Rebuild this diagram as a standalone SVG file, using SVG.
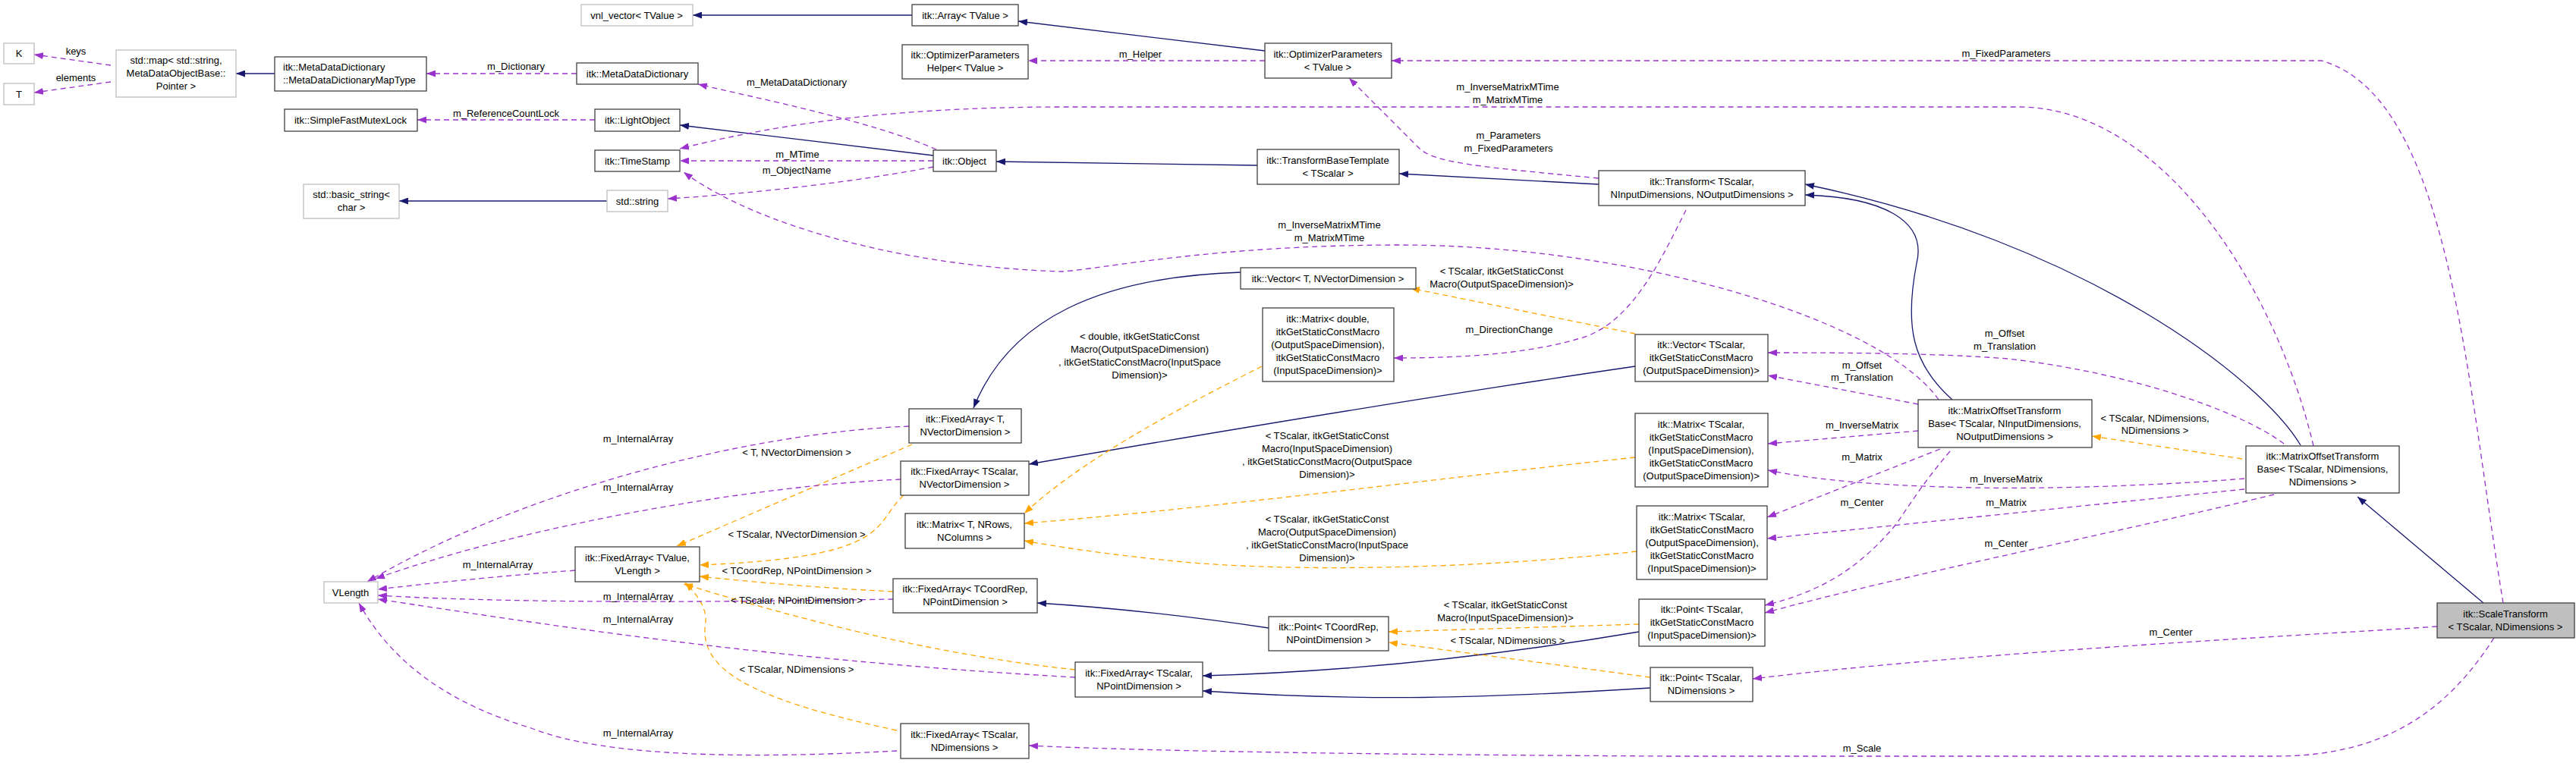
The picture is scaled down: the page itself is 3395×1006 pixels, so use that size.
<svg xmlns="http://www.w3.org/2000/svg" width="3395" height="1006" viewBox="0 0 3395 1006">
<style>
text{font-family:"Liberation Sans",Arial,sans-serif;font-size:13px;fill:#000}
.n rect{fill:#fff;stroke:#404040;stroke-width:1.3}
.g rect{stroke:#bfbfbf}
.s rect{fill:#bfbfbf}
.n text{text-anchor:middle}
.l text{text-anchor:start}
#edges path{fill:none;stroke-width:1.3}
.inh{stroke:#191970;marker-end:url(#ai)}
.use{stroke:#9a32cd;stroke-dasharray:7,5;marker-end:url(#au)}
.tpl{stroke:#ffa500;stroke-dasharray:7,5;marker-end:url(#at)}
#labels text{text-anchor:middle}
</style>
<defs>
<marker id="ai" markerUnits="userSpaceOnUse" markerWidth="12" markerHeight="9" refX="12" refY="4.5" orient="auto"><path d="M0,0L12,4.5L0,9z" fill="#191970"/></marker>
<marker id="au" markerUnits="userSpaceOnUse" markerWidth="12" markerHeight="9" refX="12" refY="4.5" orient="auto"><path d="M0,0L12,4.5L0,9z" fill="#9a32cd"/></marker>
<marker id="at" markerUnits="userSpaceOnUse" markerWidth="12" markerHeight="9" refX="12" refY="4.5" orient="auto"><path d="M0,0L12,4.5L0,9z" fill="#ffa500"/></marker>
</defs>
<rect width="3395" height="1006" fill="#fff"/>
<g id="edges">
<path class="use" d="M146,86L45,72"/>
<path class="use" d="M146,108L45,122"/>
<path class="inh" d="M362,97L311,97"/>
<path class="use" d="M760,97L562,97"/>
<path class="use" d="M784,158L550,158"/>
<path class="inh" d="M800,265L526,265"/>
<path class="inh" d="M1202,20L913,20"/>
<path class="use" d="M1234,197C1150,160 1000,130 920,111"/>
<path class="inh" d="M1230,205L896,165"/>
<path class="use" d="M1230,212L896,212"/>
<path class="use" d="M1230,220C1100,245 950,258 880,262"/>
<path class="inh" d="M1657,218L1313,213"/>
<path class="inh" d="M1667,67L1342,28"/>
<path class="use" d="M1667,80L1355,80"/>
<path class="inh" d="M2107,243L1844,229"/>
<path class="use" d="M2107,235C1950,220 1890,215 1870,195L1778,103"/>
<path class="use" d="M3299,795C3250,500 3230,130 3060,80L1834,80"/>
<path class="use" d="M3049,588C3000,380 2850,141 2660,141L1400,141C1150,141 1000,170 896,196"/>
<path class="use" d="M2555,527C2480,420 2150,323 1844,323C1600,323 1450,355 1400,358C1200,352 1000,300 901,227"/>
<path class="inh" d="M1635,359C1450,365 1330,420 1283,538"/>
<path class="inh" d="M2155,483C1900,520 1600,570 1356,612"/>
<path class="tpl" d="M2155,440L1859,380"/>
<path class="tpl" d="M1663,483C1550,540 1420,610 1350,677"/>
<path class="use" d="M2222,277C2190,340 2150,430 2079,447C2000,470 1900,472 1837,472"/>
<path class="tpl" d="M2155,603C1900,630 1600,670 1350,690"/>
<path class="tpl" d="M2157,727C1950,750 1700,755 1550,740C1450,730 1390,720 1350,713"/>
<path class="tpl" d="M2160,823L1830,833"/>
<path class="inh" d="M2160,833C2000,860 1800,885 1585,891"/>
<path class="tpl" d="M2175,893L1830,847"/>
<path class="inh" d="M2175,907C1950,921 1800,925 1585,911"/>
<path class="inh" d="M1672,828C1550,810 1450,800 1367,795"/>
<path class="tpl" d="M1202,586L892,720"/>
<path class="tpl" d="M1191,653C1150,690 1180,735 922,745"/>
<path class="tpl" d="M1177,780C1080,775 1000,768 922,760"/>
<path class="tpl" d="M1417,883C1200,860 1000,800 901,770"/>
<path class="tpl" d="M1182,963C980,920 920,880 930,820C932,800 915,780 903,768"/>
<path class="use" d="M1198,562C1000,570 700,640 484,767"/>
<path class="use" d="M1187,632C1000,640 700,690 495,763"/>
<path class="use" d="M758,752C650,760 560,770 498,777"/>
<path class="use" d="M1177,790C1000,793 700,797 498,785"/>
<path class="use" d="M1417,893C1000,870 700,820 498,790"/>
<path class="use" d="M1182,990C1000,1000 800,1000 700,960C600,930 520,880 473,795"/>
<path class="use" d="M3287,841C3230,930 3150,997 3000,997L2200,997C1800,995 1500,990 1356,983"/>
<path class="use" d="M3212,826C3000,840 2600,860 2310,895"/>
<path class="inh" d="M3273,795L3107,655"/>
<path class="tpl" d="M2955,605L2757,575"/>
<path class="inh" d="M3032,587C2980,500 2750,320 2379,243"/>
<path class="inh" d="M2573,527C2520,480 2510,430 2526,347C2540,290 2480,260 2379,257"/>
<path class="use" d="M3010,585C2950,540 2800,490 2646,473C2550,465 2400,465 2330,465"/>
<path class="use" d="M2958,631C2850,640 2700,645 2602,643C2450,640 2380,630 2330,620"/>
<path class="use" d="M2958,645L2329,710"/>
<path class="use" d="M2997,652C2800,700 2500,760 2326,808"/>
<path class="use" d="M2528,533L2330,495"/>
<path class="use" d="M2528,568L2330,585"/>
<path class="use" d="M2557,592L2329,682"/>
<path class="use" d="M2570,595C2540,630 2520,660 2500,690C2450,750 2400,780 2326,798"/>
</g>
<g id="labels">
<text x="100" y="72">keys</text>
<text x="100" y="107">elements</text>
<text x="680" y="92">m_Dictionary</text>
<text x="667" y="154">m_ReferenceCountLock</text>
<text x="1050" y="113">m_MetaDataDictionary</text>
<text x="1051" y="208">m_MTime</text>
<text x="1050" y="229">m_ObjectName</text>
<text x="1503" y="76">m_Helper</text>
<text x="1988" y="183">m_Parameters</text>
<text x="1988" y="200">m_FixedParameters</text>
<text x="2644" y="75">m_FixedParameters</text>
<text x="1987" y="119">m_InverseMatrixMTime</text>
<text x="1987" y="136">m_MatrixMTime</text>
<text x="1752" y="301">m_InverseMatrixMTime</text>
<text x="1752" y="318">m_MatrixMTime</text>
<text x="1979" y="362">&lt; TScalar, itkGetStaticConst</text>
<text x="1979" y="379">Macro(OutputSpaceDimension)&gt;</text>
<text x="1502" y="448">&lt; double, itkGetStaticConst</text>
<text x="1502" y="465">Macro(OutputSpaceDimension)</text>
<text x="1502" y="482">, itkGetStaticConstMacro(InputSpace</text>
<text x="1502" y="499">Dimension)&gt;</text>
<text x="1989" y="439">m_DirectionChange</text>
<text x="1749" y="579">&lt; TScalar, itkGetStaticConst</text>
<text x="1749" y="596">Macro(InputSpaceDimension)</text>
<text x="1749" y="613">, itkGetStaticConstMacro(OutputSpace</text>
<text x="1749" y="630">Dimension)&gt;</text>
<text x="1749" y="689">&lt; TScalar, itkGetStaticConst</text>
<text x="1749" y="706">Macro(OutputSpaceDimension)</text>
<text x="1749" y="723">, itkGetStaticConstMacro(InputSpace</text>
<text x="1749" y="740">Dimension)&gt;</text>
<text x="1984" y="802">&lt; TScalar, itkGetStaticConst</text>
<text x="1984" y="819">Macro(InputSpaceDimension)&gt;</text>
<text x="1987" y="849">&lt; TScalar, NDimensions &gt;</text>
<text x="1050" y="601">&lt; T, NVectorDimension &gt;</text>
<text x="1050" y="709">&lt; TScalar, NVectorDimension &gt;</text>
<text x="1050" y="757">&lt; TCoordRep, NPointDimension &gt;</text>
<text x="1050" y="796">&lt; TScalar, NPointDimension &gt;</text>
<text x="1050" y="887">&lt; TScalar, NDimensions &gt;</text>
<text x="841" y="583">m_InternalArray</text>
<text x="841" y="647">m_InternalArray</text>
<text x="656" y="749">m_InternalArray</text>
<text x="841" y="791">m_InternalArray</text>
<text x="841" y="821">m_InternalArray</text>
<text x="841" y="971">m_InternalArray</text>
<text x="2454" y="991">m_Scale</text>
<text x="2861" y="838">m_Center</text>
<text x="2840" y="556">&lt; TScalar, NDimensions,</text>
<text x="2840" y="572">NDimensions &gt;</text>
<text x="2642" y="444">m_Offset</text>
<text x="2642" y="461">m_Translation</text>
<text x="2454" y="486">m_Offset</text>
<text x="2454" y="502">m_Translation</text>
<text x="2644" y="636">m_InverseMatrix</text>
<text x="2644" y="667">m_Matrix</text>
<text x="2644" y="721">m_Center</text>
<text x="2454" y="565">m_InverseMatrix</text>
<text x="2454" y="607">m_Matrix</text>
<text x="2454" y="667">m_Center</text>
</g>
<g id="K" class="n g"><rect x="5" y="57" width="40" height="27"/><text x="25" y="75">K</text></g>
<g id="T" class="n g"><rect x="5" y="110" width="40" height="28"/><text x="25" y="129">T</text></g>
<g id="stdmap" class="n g"><rect x="153" y="66" width="158" height="62"/><text x="232" y="84">std::map&lt; std::string,</text><text x="232" y="101">MetaDataObjectBase::</text><text x="232" y="118">Pointer &gt;</text></g>
<g id="maptype" class="n l"><rect x="362" y="75" width="200" height="45"/><text x="373" y="93">itk::MetaDataDictionary</text><text x="373" y="110">::MetaDataDictionaryMapType</text></g>
<g id="mutex" class="n"><rect x="375" y="144" width="175" height="29"/><text x="462" y="163">itk::SimpleFastMutexLock</text></g>
<g id="basicstring" class="n g"><rect x="400" y="243" width="126" height="45"/><text x="463" y="261">std::basic_string&lt;</text><text x="463" y="278">char &gt;</text></g>
<g id="vnl" class="n g"><rect x="766" y="6" width="147" height="28"/><text x="839" y="25">vnl_vector&lt; TValue &gt;</text></g>
<g id="array" class="n"><rect x="1202" y="6" width="140" height="28"/><text x="1272" y="25">itk::Array&lt; TValue &gt;</text></g>
<g id="ophelper" class="n"><rect x="1189" y="59" width="166" height="45"/><text x="1272" y="77">itk::OptimizerParameters</text><text x="1272" y="94">Helper&lt; TValue &gt;</text></g>
<g id="mdd" class="n"><rect x="760" y="83" width="160" height="28"/><text x="840" y="102">itk::MetaDataDictionary</text></g>
<g id="lightobject" class="n"><rect x="784" y="144" width="112" height="29"/><text x="840" y="163">itk::LightObject</text></g>
<g id="timestamp" class="n"><rect x="784" y="198" width="112" height="28"/><text x="840" y="217">itk::TimeStamp</text></g>
<g id="stdstring" class="n g"><rect x="800" y="251" width="80" height="28"/><text x="840" y="270">std::string</text></g>
<g id="object" class="n"><rect x="1230" y="198" width="83" height="28"/><text x="1271" y="217">itk::Object</text></g>
<g id="optparams" class="n"><rect x="1667" y="57" width="167" height="46"/><text x="1750" y="76">itk::OptimizerParameters</text><text x="1750" y="93">&lt; TValue &gt;</text></g>
<g id="tbt" class="n"><rect x="1657" y="197" width="187" height="46"/><text x="1750" y="216">itk::TransformBaseTemplate</text><text x="1750" y="233">&lt; TScalar &gt;</text></g>
<g id="transform" class="n"><rect x="2107" y="225" width="272" height="46"/><text x="2243" y="244">itk::Transform&lt; TScalar,</text><text x="2243" y="261">NInputDimensions, NOutputDimensions &gt;</text></g>
<g id="vectorT" class="n"><rect x="1635" y="353" width="231" height="28"/><text x="1750" y="372">itk::Vector&lt; T, NVectorDimension &gt;</text></g>
<g id="matrixdouble" class="n"><rect x="1664" y="406" width="173" height="97"/><text x="1750" y="425">itk::Matrix&lt; double,</text><text x="1750" y="442">itkGetStaticConstMacro</text><text x="1750" y="459">(OutputSpaceDimension),</text><text x="1750" y="476">itkGetStaticConstMacro</text><text x="1750" y="493">(InputSpaceDimension)&gt;</text></g>
<g id="vectorTS" class="n"><rect x="2155" y="441" width="175" height="62"/><text x="2242" y="459">itk::Vector&lt; TScalar,</text><text x="2242" y="476">itkGetStaticConstMacro</text><text x="2242" y="493">(OutputSpaceDimension)&gt;</text></g>
<g id="motb" class="n"><rect x="2528" y="527" width="229" height="63"/><text x="2642" y="546">itk::MatrixOffsetTransform</text><text x="2642" y="563">Base&lt; TScalar, NInputDimensions,</text><text x="2642" y="580">NOutputDimensions &gt;</text></g>
<g id="matrix1" class="n"><rect x="2155" y="545" width="175" height="97"/><text x="2242" y="564">itk::Matrix&lt; TScalar,</text><text x="2242" y="581">itkGetStaticConstMacro</text><text x="2242" y="598">(InputSpaceDimension),</text><text x="2242" y="615">itkGetStaticConstMacro</text><text x="2242" y="632">(OutputSpaceDimension)&gt;</text></g>
<g id="matrix2" class="n"><rect x="2157" y="667" width="172" height="97"/><text x="2243" y="686">itk::Matrix&lt; TScalar,</text><text x="2243" y="703">itkGetStaticConstMacro</text><text x="2243" y="720">(OutputSpaceDimension),</text><text x="2243" y="737">itkGetStaticConstMacro</text><text x="2243" y="754">(InputSpaceDimension)&gt;</text></g>
<g id="pointisd" class="n"><rect x="2160" y="790" width="166" height="62"/><text x="2243" y="808">itk::Point&lt; TScalar,</text><text x="2243" y="825">itkGetStaticConstMacro</text><text x="2243" y="842">(InputSpaceDimension)&gt;</text></g>
<g id="pointnd" class="n"><rect x="2175" y="880" width="135" height="45"/><text x="2242" y="898">itk::Point&lt; TScalar,</text><text x="2242" y="915">NDimensions &gt;</text></g>
<g id="motb2" class="n"><rect x="2960" y="588" width="202" height="62"/><text x="3061" y="606">itk::MatrixOffsetTransform</text><text x="3061" y="623">Base&lt; TScalar, NDimensions,</text><text x="3061" y="640">NDimensions &gt;</text></g>
<g id="scaletransform" class="n s"><rect x="3212" y="795" width="181" height="46"/><text x="3302" y="814">itk::ScaleTransform</text><text x="3302" y="831">&lt; TScalar, NDimensions &gt;</text></g>
<g id="fa_tnvd" class="n"><rect x="1198" y="539" width="148" height="45"/><text x="1272" y="557">itk::FixedArray&lt; T,</text><text x="1272" y="574">NVectorDimension &gt;</text></g>
<g id="fa_tsnvd" class="n"><rect x="1187" y="608" width="169" height="45"/><text x="1271" y="626">itk::FixedArray&lt; TScalar,</text><text x="1271" y="643">NVectorDimension &gt;</text></g>
<g id="matrixT" class="n"><rect x="1193" y="677" width="157" height="46"/><text x="1271" y="696">itk::Matrix&lt; T, NRows,</text><text x="1271" y="713">NColumns &gt;</text></g>
<g id="fa_tvalue" class="n"><rect x="758" y="721" width="164" height="46"/><text x="840" y="740">itk::FixedArray&lt; TValue,</text><text x="840" y="757">VLength &gt;</text></g>
<g id="fa_tcoordrep" class="n"><rect x="1177" y="763" width="190" height="45"/><text x="1272" y="781">itk::FixedArray&lt; TCoordRep,</text><text x="1272" y="798">NPointDimension &gt;</text></g>
<g id="fa_tsnpd" class="n"><rect x="1417" y="873" width="168" height="46"/><text x="1501" y="892">itk::FixedArray&lt; TScalar,</text><text x="1501" y="909">NPointDimension &gt;</text></g>
<g id="pointtcoordrep" class="n"><rect x="1672" y="813" width="158" height="45"/><text x="1751" y="831">itk::Point&lt; TCoordRep,</text><text x="1751" y="848">NPointDimension &gt;</text></g>
<g id="fa_tsnd" class="n"><rect x="1187" y="954" width="169" height="46"/><text x="1271" y="973">itk::FixedArray&lt; TScalar,</text><text x="1271" y="990">NDimensions &gt;</text></g>
<g id="vlength" class="n g"><rect x="427" y="767" width="71" height="28"/><text x="462" y="786">VLength</text></g>
</svg>
